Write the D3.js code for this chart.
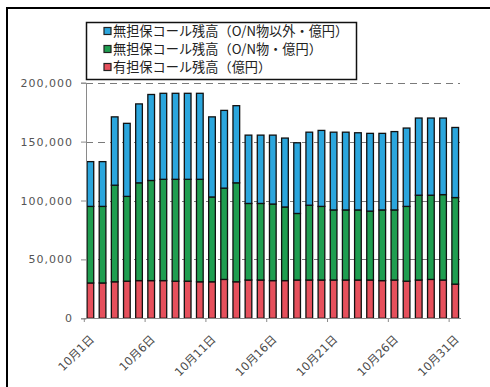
<!DOCTYPE html>
<html>
<head>
<meta charset="utf-8">
<script src="https://cdn.jsdelivr.net/npm/d3@7/dist/d3.min.js"></script>
<style>
  html, body { margin: 0; padding: 0; background: #fff; }
  svg { display: block; }
</style>
</head>
<body>
<svg id="chart" width="490" height="387"></svg>
<script>
// Daily call market balances for October (units: 100 million yen)
const days = d3.range(1, 32);
const dayLabels = days.map(d => `10月${d}日`);
const tickDays = [1, 6, 11, 16, 21, 26, 31];

// Secured call balance
const securedCall = [30000, 30000, 31000, 31500, 32000, 32000, 32000, 31500, 31500, 31000,
  31000, 33000, 31000, 32500, 32500, 32000, 32000, 32500, 32500, 32500,
  32500, 32500, 32500, 32500, 32000, 32500, 31500, 32500, 33000, 32500, 29000];
// Unsecured call balance, overnight
const unsecuredON = [65000, 65000, 82000, 72000, 83000, 85000, 86000, 86500, 86500, 87000,
  72000, 77500, 84000, 65000, 65000, 65000, 62500, 56500, 63500, 62500,
  59500, 59500, 59500, 58500, 60000, 59500, 63500, 72000, 71500, 72500, 73500];
// Unsecured call balance, other than overnight
const unsecuredTerm = [38000, 38000, 58000, 62000, 67000, 73000, 73000, 73000, 73000, 73000,
  68000, 66000, 65500, 58000, 58000, 58500, 58500, 60000, 62000, 64500,
  66000, 66000, 65500, 66000, 65000, 66500, 66500, 65500, 65500, 65000, 59500];

const yTicks = [0, 50000, 100000, 150000, 200000];

const seriesNames = ["無担保コール残高（O/N物以外・億円）", "無担保コール残高（O/N物・億円）", "有担保コール残高（億円）"];
const seriesColors = ["#2ba6dd", "#1f9e50", "#e6505c"];

const svg = d3.select("#chart");

// outer frame
svg.append("path")
  .attr("d", "M7,387V8H490")
  .attr("fill", "none")
  .attr("stroke", "#000")
  .attr("stroke-width", 2);

const x = d3.scaleBand()
  .domain(days)
  .range([84.3, 461.3])
  .paddingInner(0.45)
  .paddingOuter(0.225);

const y = d3.scaleLinear()
  .domain([0, 200000])
  .range([318.3, 82.7]);

// gridlines
svg.append("g")
  .selectAll("line")
  .data(yTicks.filter(v => v > 0))
  .join("line")
  .attr("x1", 86).attr("x2", 460)
  .attr("y1", d => Math.round(y(d)) + 0.5)
  .attr("y2", d => Math.round(y(d)) + 0.5)
  .attr("stroke", "#7a7a7a")
  .attr("stroke-width", 1.2)
  .attr("stroke-dasharray", "7,5");

// stacked bars
const table = days.map((d, i) => ({
  day: d,
  secured: securedCall[i],
  on: unsecuredON[i],
  term: unsecuredTerm[i]
}));
const keys = ["secured", "on", "term"];
const keyColor = { secured: seriesColors[2], on: seriesColors[1], term: seriesColors[0] };
const stacked = d3.stack().keys(keys)(table);

svg.append("g")
  .selectAll("g")
  .data(stacked)
  .join("g")
  .attr("fill", s => keyColor[s.key])
  .selectAll("rect")
  .data(s => s)
  .join("rect")
  .attr("x", d => x(d.data.day))
  .attr("width", x.bandwidth())
  .attr("y", d => y(d[1]))
  .attr("height", d => y(d[0]) - y(d[1]))
  .attr("stroke", "#111")
  .attr("stroke-width", 1.3);

// y axis
const yAxis = svg.append("g")
  .attr("transform", "translate(86,0)")
  .call(d3.axisLeft(y).tickValues(yTicks).tickFormat(d3.format(",")).tickSize(5).tickPadding(8));
yAxis.select(".domain").attr("stroke", "#8a8a8a");
yAxis.selectAll(".tick line").attr("stroke", "#8a8a8a");
yAxis.selectAll("text")
  .attr("fill", "#555")
  .style("font-family", "'DejaVu Sans', sans-serif")
  .style("font-size", "11px")
  .style("letter-spacing", "1px");

// x axis line and ticks at category boundaries
const x0 = svg.append("g");
x0.append("line")
  .attr("x1", 84).attr("x2", 461)
  .attr("y1", 318.5).attr("y2", 318.5)
  .attr("stroke", "#8a8a8a");
x0.selectAll("line.tk")
  .data(tickDays)
  .join("line")
  .attr("class", "tk")
  .attr("x1", d => x(d) - x.step() * x.paddingInner() / 2)
  .attr("x2", d => x(d) - x.step() * x.paddingInner() / 2)
  .attr("y1", 318.5).attr("y2", 322)
  .attr("stroke", "#8a8a8a");

x0.selectAll("text")
  .data(tickDays)
  .join("text")
  .attr("transform", d => `translate(${x(d) + x.bandwidth() / 2 + 4.5},${340}) rotate(-45)`)
  .attr("text-anchor", "end")
  .attr("fill", "#4a4a4a")
  .style("font-family", "'DejaVu Sans', 'Noto Sans CJK JP', sans-serif")
  .style("font-size", "11.5px")
  .text(d => dayLabels[d - 1]);

// legend
const lg = svg.append("g");
lg.append("rect")
  .attr("x", 86.5).attr("y", 22.5)
  .attr("width", 270).attr("height", 57)
  .attr("fill", "#fff")
  .attr("stroke", "#111")
  .attr("stroke-width", 1.5);
const rows = lg.selectAll("g.row")
  .data(seriesNames)
  .join("g")
  .attr("class", "row")
  .attr("transform", (d, i) => `translate(104,${31 + i * 18})`);
rows.append("rect")
  .attr("x", 0).attr("y", -3.5)
  .attr("width", 7).attr("height", 7)
  .attr("fill", (d, i) => seriesColors[i])
  .attr("stroke", "#222")
  .attr("stroke-width", 1.2);
rows.append("text")
  .attr("x", 9)
  .attr("y", 0)
  .attr("dy", "0.36em")
  .attr("fill", "#222")
  .style("font-family", "'Noto Sans CJK JP', sans-serif")
  .style("font-size", "13.2px")
  .text(d => d);
</script>
</body>
</html>
